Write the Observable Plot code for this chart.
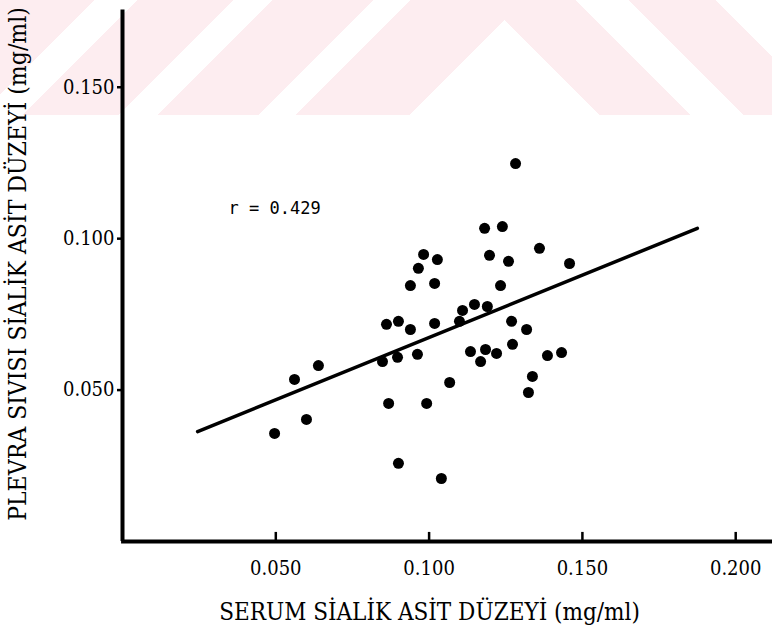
<!DOCTYPE html>
<html>
<head>
<meta charset="utf-8">
<script src="https://cdn.jsdelivr.net/npm/d3@7"></script>
<script src="https://cdn.jsdelivr.net/npm/@observablehq/plot@0.6"></script>
<style>
  html, body { margin: 0; padding: 0; background: #fff; }
  #wrap { position: relative; width: 772px; height: 632px; }
  /* faint scan watermark band across the top of the page */
  #mark {
    position: absolute; left: 0; top: 0; width: 772px; height: 115px; z-index: 0;
    background:
      linear-gradient(45deg, transparent 0 424px, #fdedf0 424px 488px, transparent 488px 526px, #fdedf0 526px 587px, transparent 587px),
      linear-gradient(135deg, #fdedf0 0 67px, transparent 67px 97px, #fdedf0 97px 165px, transparent 165px 193px, #fdedf0 193px 264px, transparent 264px 290px, #fdedf0 290px 371px, transparent 371px);
  }
  #chart { position: absolute; left: 0; top: 0; z-index: 1; }
</style>
</head>
<body>
<div id="wrap"><div id="mark"></div><div id="chart"></div></div>
<script>
// Serum sialic acid (x) vs pleural fluid sialic acid (y), mg/ml
const serum = [0.0496,0.0561,0.0600,0.0639,0.0848,0.0861,0.0868,0.0900,0.0897,0.0900,
  0.0939,0.0939,0.0965,0.0982,0.1027,0.1018,0.0962,0.0992,0.1018,0.1040,
  0.1067,0.1099,0.1109,0.1148,0.1135,0.1168,0.1181,0.1197,0.1184,0.1190,
  0.1220,0.1239,0.1233,0.1259,0.1269,0.1272,0.1282,0.1318,0.1337,0.1324,
  0.1360,0.1386,0.1432,0.1458];
const pleural = [0.0357,0.0535,0.0403,0.0581,0.0594,0.0717,0.0456,0.0727,0.0608,0.0258,
  0.0700,0.0845,0.0902,0.0948,0.0931,0.0852,0.0618,0.0456,0.0720,0.0208,
  0.0525,0.0727,0.0763,0.0783,0.0627,0.0594,0.1034,0.0945,0.0634,0.0776,
  0.0621,0.1040,0.0845,0.0925,0.0727,0.0651,0.1248,0.0700,0.0545,0.0492,
  0.0968,0.0614,0.0624,0.0918];
// Regression line end points
const fitX = [0.0245, 0.1875];
const fitY = [0.0363, 0.1034];
const xTicks = [0.05, 0.10, 0.15, 0.20];
const yTicks = [0.05, 0.10, 0.15];
const xTickLabels = ["0.050", "0.100", "0.150", "0.200"];
const yTickLabels = ["0.050", "0.100", "0.150"];
const rLabel = "r = 0.429";
const rPos = {x: 0.0346, y: 0.110};
const xTitle = "SERUM SİALİK ASİT DÜZEYİ (mg/ml)";
const yTitle = "PLEVRA SIVISI SİALİK ASİT DÜZEYİ (mg/ml)";

const points = serum.map((x, i) => ({x, y: pleural[i]}));
const fit = fitX.map((x, i) => ({x, y: fitY[i]}));
const SERIF = "DejaVu Serif Condensed, DejaVu Serif, serif";
const MONO = "DejaVu Sans Mono, Liberation Mono, monospace";

const chart = Plot.plot({
  width: 772,
  height: 632,
  marginLeft: 122,
  marginRight: 0,
  marginTop: 8,
  marginBottom: 91,
  style: {fontFamily: SERIF, background: "transparent", color: "#000"},
  x: {domain: [0, 0.212]},
  y: {domain: [0, 0.176]},
  marks: [
    // axis lines
    Plot.ruleX([0], {y1: 0, y2: 0.1755, stroke: "#000", strokeWidth: 4}),
    Plot.ruleY([0], {x1: -0.0003, x2: 0.212, stroke: "#000", strokeWidth: 4}),
    // x ticks (pointing up)
    Plot.ruleX(xTicks, {y1: 0, y2: 0.003, stroke: "#000", strokeWidth: 2.5}),
    Plot.axisX(xTicks, {tickSize: 0, tickPadding: 19, fontSize: 20, tickFormat: (d, i) => xTickLabels[i], label: null}),
    Plot.axisY(yTicks, {tickSize: 5, strokeWidth: 2.5, tickPadding: 3, fontSize: 20, tickFormat: (d, i) => yTickLabels[i], label: null}),
    // regression line
    Plot.line(fit, {x: "x", y: "y", stroke: "#000", strokeWidth: 3.5, strokeLinecap: "round"}),
    // data points
    Plot.dot(points, {x: "x", y: "y", r: 5.5, fill: "#000", stroke: "none"}),
    // correlation label
    Plot.text([rLabel], {x: rPos.x, y: rPos.y, text: d => d, textAnchor: "start", fontSize: 17, fontFamily: MONO, fill: "#000"}),
    // axis titles
    Plot.text([xTitle], {frameAnchor: "bottom", text: d => d, textAnchor: "middle", lineAnchor: "middle", dx: -18, dy: 71, fontSize: 24, fill: "#000"}),
    Plot.text([yTitle], {frameAnchor: "left", text: d => d, textAnchor: "middle", lineAnchor: "middle", rotate: -90, dx: -104, dy: -11, fontSize: 24.5, fill: "#000"})
  ]
});
document.getElementById("chart").appendChild(chart);
</script>
</body>
</html>
